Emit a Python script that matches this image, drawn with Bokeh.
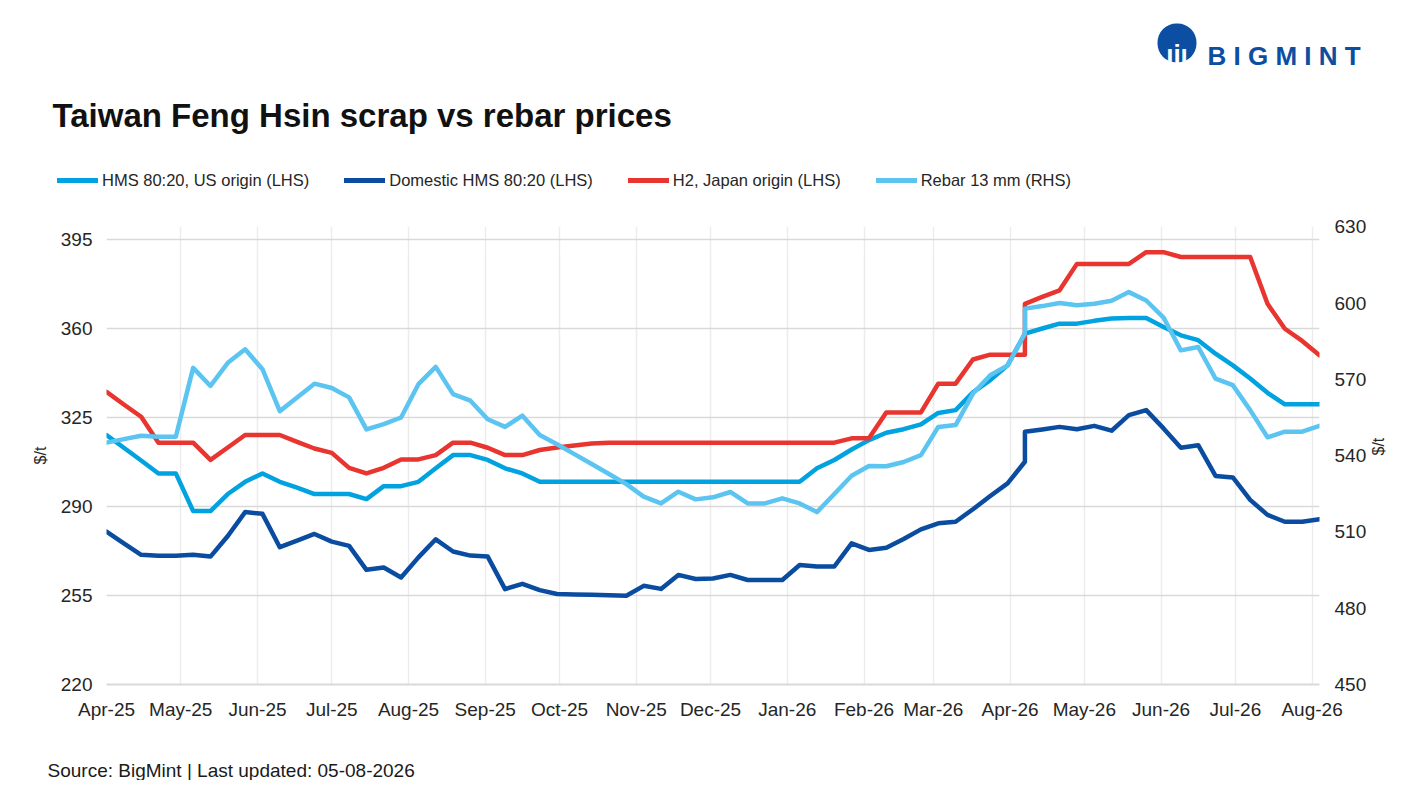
import math
import pandas as pd
from bokeh.plotting import figure
from bokeh.layouts import column
from bokeh.models import (Range1d, LinearAxis, FixedTicker, DatetimeTickFormatter,
                          Label, Legend, LegendItem, BoxAnnotation, ColumnDataSource)
from bokeh.embed import file_html
from bokeh.resources import INLINE

FONT = "Liberation Sans"

# ---------------- data ----------------
# weekly observations (Wednesdays); the week of 8 Apr 2026 carries two observations
weeks = list(pd.date_range("2025-04-02", periods=71, freq="7D"))
dates = weeks[:54] + [weeks[53]] + weeks[54:]

hms_us = [
    318.1, 313.1, 308.1, 303.0, 303.0, 288.2, 288.2, 294.9, 299.7, 303.0,
    299.7, 297.4, 294.9, 294.9, 294.9, 292.9, 298.0, 298.0, 299.7, 305.0,
    310.2, 310.2, 308.3, 305.0, 303.0, 299.7, 299.7, 299.7, 299.7, 299.7,
    299.7, 299.7, 299.7, 299.7, 299.7, 299.7, 299.7, 299.7, 299.7, 299.7,
    299.7, 305.0, 308.3, 312.4, 316.1, 319.0, 320.4, 322.3, 326.8, 327.9,
    334.9, 339.7, 345.5, 358.0, 358.0, 360.0, 361.9, 361.9, 363.0, 363.9,
    364.1, 364.1, 360.6, 357.3, 355.4, 350.1, 345.5, 340.3, 334.7, 330.2,
    330.2, 330.2]

domestic = [
    280.1, 275.5, 271.0, 270.6, 270.6, 271.0, 270.3, 278.4, 287.8, 287.1,
    274.0, 276.6, 279.2, 276.2, 274.5, 265.1, 266.0, 262.1, 270.0, 277.1,
    272.3, 270.7, 270.3, 257.5, 259.6, 257.1, 255.6, 255.4, 255.3, 255.1,
    254.9, 258.8, 257.6, 263.1, 261.5, 261.7, 263.1, 261.1, 261.1, 261.1,
    267.0, 266.4, 266.4, 275.5, 272.9, 273.8, 277.2, 281.0, 283.4, 284.0,
    288.9, 294.1, 299.1, 307.6, 319.4, 320.3, 321.3, 320.4, 321.7, 319.8,
    325.9, 327.9, 320.7, 313.1, 314.1, 302.0, 301.4, 292.6, 286.7, 284.0,
    284.0, 285.0]

h2_japan = [
    335.1, 330.1, 325.3, 315.1, 315.1, 315.1, 308.3, 313.2, 318.1, 318.1,
    318.1, 315.4, 312.8, 311.1, 305.2, 303.0, 305.2, 308.5, 308.5, 310.2,
    315.1, 315.1, 313.1, 310.2, 310.2, 312.2, 313.2, 314.0, 314.8, 315.1,
    315.1, 315.1, 315.1, 315.1, 315.1, 315.1, 315.1, 315.1, 315.1, 315.1,
    315.1, 315.1, 315.1, 316.8, 316.8, 327.0, 327.0, 327.0, 338.3, 338.3,
    347.8, 349.7, 349.7, 349.7, 369.7, 372.4, 375.0, 385.4, 385.4, 385.4,
    385.4, 390.0, 390.0, 388.1, 388.1, 388.1, 388.1, 388.1, 369.7, 359.9,
    355.1, 349.5]

rebar = [
    545.1, 546.5, 547.8, 547.4, 547.4, 574.5, 567.4, 576.5, 581.8, 574.0,
    557.5, 562.9, 568.3, 566.6, 562.9, 550.3, 552.4, 555.0, 568.1, 574.9,
    564.2, 561.6, 554.3, 551.3, 555.7, 548.1, 544.5, 540.6, 536.7, 532.8,
    528.8, 523.9, 521.2, 525.8, 522.8, 523.6, 525.7, 521.2, 521.2, 523.2,
    521.2, 517.8, 524.9, 532.1, 535.9, 535.8, 537.5, 540.2, 551.3, 552.0,
    564.4, 571.6, 575.5, 588.0, 597.8, 598.8, 600.0, 599.1, 599.7, 600.9,
    604.3, 601.0, 594.3, 581.4, 582.7, 570.3, 567.7, 557.9, 547.2, 549.4,
    549.4, 551.7]

series_names = ["HMS 80:20, US origin (LHS)", "Domestic HMS 80:20 (LHS)",
                "H2, Japan origin (LHS)", "Rebar 13 mm (RHS)"]
series_colors = ["#00A2DF", "#0A4C9F", "#E8352F", "#5BC4F1"]

lhs_ticks = [220, 255, 290, 325, 360, 395]
rhs_ticks = [450, 480, 510, 540, 570, 600, 630]
month_ticks = list(pd.date_range("2025-04-02", periods=17, freq=pd.DateOffset(months=1)))
month_labels = ["Apr-25", "May-25", "Jun-25", "Jul-25", "Aug-25", "Sep-25", "Oct-25",
                "Nov-25", "Dec-25", "Jan-26", "Feb-26", "Mar-26", "Apr-26", "May-26",
                "Jun-26", "Jul-26", "Aug-26"]

title_text = "Taiwan Feng Hsin scrap vs rebar prices"
source_text = "Source: BigMint |  Last updated: 05-08-2026"
logo_text = "B I G M I N T"

W = 1409
HEADER_H = 200
FOOTER_H = 56
TEXT_COL = "#262626"
LOGO_BLUE = "#0B4EA2"


def blank(height):
    f = figure(width=W, height=height, x_range=Range1d(0, W), y_range=Range1d(0, height),
               min_border=0, x_axis_location=None, y_axis_location=None,
               toolbar_location=None, output_backend="svg",
               background_fill_color="white", border_fill_color="white")
    f.outline_line_color = None
    f.grid.visible = False
    try:
        f.frame_align = False
    except Exception:
        pass
    return f


# ---------------- header: logo, title, legend ----------------
hdr = blank(HEADER_H)
hdr.add_layout(BoxAnnotation(left=1157, right=1196, bottom=HEADER_H - 62, top=HEADER_H - 23,
                             border_radius=19, fill_color=LOGO_BLUE, fill_alpha=1,
                             line_color=None))
hdr.add_layout(Label(x=1176.5, y=HEADER_H - 53, text="ıiı", text_font=FONT,
                     text_font_size="26px", text_font_style="bold", text_color="white",
                     text_align="center", text_baseline="alphabetic"))
hdr.add_layout(Label(x=1207, y=HEADER_H - 55, text=logo_text, text_font=FONT,
                     text_font_size="26px", text_font_style="bold", text_color=LOGO_BLUE,
                     text_baseline="alphabetic"))
hdr.add_layout(Label(x=52, y=HEADER_H - 115, text=title_text, text_font=FONT,
                     text_font_size="33px", text_font_style="bold", text_color="#111111",
                     text_baseline="alphabetic"))

# legend key renderers (single point each, so nothing is drawn in the header itself)
dummy = [hdr.line(x=[-50], y=[-50], line_color=c, line_width=5, line_cap="round")
         for c in series_colors]
legend = Legend(items=[LegendItem(label=n, renderers=[r]) for n, r in zip(series_names, dummy)],
                location=(57, HEADER_H - 190), orientation="horizontal",
                glyph_width=41, glyph_height=20, label_height=20, label_standoff=4,
                spacing=35, padding=0, margin=0,
                border_line_color=None, background_fill_alpha=0,
                label_text_font=FONT, label_text_font_size="16.5px",
                label_text_color=TEXT_COL)
hdr.add_layout(legend, "center")

# ---------------- main chart ----------------
src = ColumnDataSource(dict(date=dates, hms_us=hms_us, domestic=domestic,
                            h2=h2_japan, rebar=rebar))

p = figure(frame_width=1213, frame_height=458,
           min_border_left=106, min_border_right=90, min_border_top=26, min_border_bottom=40,
           x_axis_type="datetime",
           x_range=Range1d(start=pd.Timestamp("2025-04-02"), end=pd.Timestamp("2026-08-05")),
           y_range=Range1d(start=220, end=400.1),
           output_backend="svg", toolbar_location=None,
           background_fill_color="white", border_fill_color="white")
p.outline_line_color = None
p.extra_y_ranges = {"rhs": Range1d(start=450, end=630.1)}

tick_ms = [t.value // 10**6 for t in month_ticks]
p.xaxis.ticker = FixedTicker(ticks=tick_ms)
p.xaxis.major_label_overrides = {ms: lab for ms, lab in zip(tick_ms, month_labels)}
p.xaxis.formatter = DatetimeTickFormatter(days="%b-%y", months="%b-%y", years="%b-%y")
p.xaxis.axis_line_color = "#d9d9d9"
p.xaxis.axis_line_width = 2
p.xaxis.major_tick_line_color = None
p.xaxis.minor_tick_line_color = None
p.xaxis.major_label_standoff = 8

p.yaxis.ticker = FixedTicker(ticks=lhs_ticks)
p.yaxis.axis_line_color = None
p.yaxis.major_tick_line_color = None
p.yaxis.minor_tick_line_color = None
p.yaxis.major_tick_out = 0
p.yaxis.major_label_standoff = 14
p.yaxis.axis_label = "$/t"
p.yaxis.axis_label_standoff = 9

rax = LinearAxis(y_range_name="rhs", ticker=FixedTicker(ticks=rhs_ticks),
                 axis_label="$/t")
rax.axis_line_color = None
rax.major_tick_line_color = None
rax.minor_tick_line_color = None
rax.major_tick_out = 0
rax.major_label_standoff = 15
rax.axis_label_standoff = 9
try:
    rax.axis_label_orientation = math.pi / 2
except Exception:
    pass
p.add_layout(rax, "right")

for ax in [p.xaxis[0], p.yaxis[0], rax]:
    ax.major_label_text_font = FONT
    ax.major_label_text_font_size = "19px"
    ax.major_label_text_color = TEXT_COL
    ax.axis_label_text_font = FONT
    ax.axis_label_text_font_size = "16px"
    ax.axis_label_text_font_style = "normal"
    ax.axis_label_text_color = TEXT_COL

p.xgrid.ticker = FixedTicker(ticks=tick_ms)
p.xgrid.grid_line_color = "#ececec"
p.xgrid.grid_line_width = 1.5
p.ygrid.ticker = FixedTicker(ticks=lhs_ticks)
p.ygrid.grid_line_color = "#d9d9d9"
p.ygrid.grid_line_width = 1.5

cols = ["hms_us", "domestic", "h2", "rebar"]
for col, color in zip(cols, series_colors):
    kw = dict(y_range_name="rhs") if col == "rebar" else {}
    p.line("date", col, source=src, line_color=color, line_width=4.5,
           line_join="round", line_cap="round", **kw)

# ---------------- footer: source ----------------
ftr = blank(FOOTER_H)
ftr.add_layout(Label(x=47, y=FOOTER_H - 46, text=source_text, text_font=FONT,
                     text_font_size="19px", text_color="#1a1a1a",
                     text_baseline="alphabetic"))

page = column(hdr, p, ftr, spacing=0)
open("out.html", "w").write(file_html(page, INLINE))
